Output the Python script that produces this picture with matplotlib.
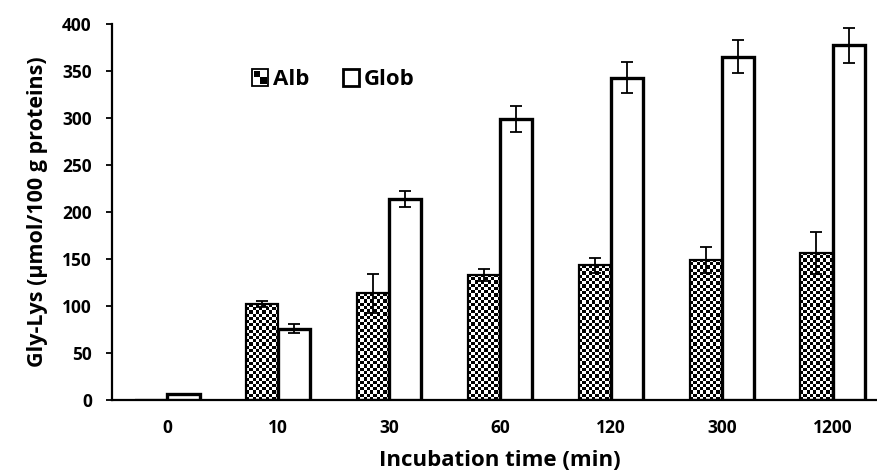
import numpy as np
import matplotlib
matplotlib.use('Agg')
import matplotlib.pyplot as plt
from matplotlib.patches import Rectangle
from matplotlib.legend_handler import HandlerBase

# значения
times = ['0', '10', '30', '60', '120', '300', '1200']
alb = [0, 102, 113.5, 133, 143.5, 149, 156.5]
alb_err = [0, 3.5, 20.5, 6.5, 8, 14, 22.5]
glob = [6, 76, 214, 299, 343, 365, 377.5]
glob_err = [0, 4.5, 8.5, 14, 16.5, 17.5, 18.5]

plt.rcParams['font.family'] = ['Open Sans', 'DejaVu Sans']
plt.rcParams['font.weight'] = 'bold'

W, H = 877, 470
fig = plt.figure(figsize=(W / 100, H / 100), dpi=100)
# область графика (правый край уходит чуть за рисунок, как в исходнике)
ax = fig.add_axes([112 / W, (H - 400) / H, 776 / W, 376 / H])

x = np.arange(len(times))
bw = 0.29
ax.set_xlim(-0.5, len(times) - 0.5)
ax.set_ylim(0, 400)

alb_bars = ax.bar(x - bw / 2, alb, width=bw, facecolor='none', edgecolor='black',
                  linewidth=1.6, zorder=3)
glob_bars = ax.bar(x + bw / 2, glob, width=bw, facecolor='white', edgecolor='black',
                   linewidth=2.4, zorder=3)

# шахматная заливка для Alb: картинка, обрезанная по форме столбика
cell = 3.2  # размер клетки в пикселях
for bar in alb_bars:
    h = bar.get_height()
    if h <= 0:
        continue
    x0 = bar.get_x()
    x1 = x0 + bar.get_width()
    p0 = ax.transData.transform((x0, 0))
    p1 = ax.transData.transform((x1, h))
    nx = max(1, int(round((p1[0] - p0[0]) / cell)))
    ny = max(1, int(round((p1[1] - p0[1]) / cell)))
    yy, xx = np.indices((ny, nx))
    checker = ((xx + yy) % 2).astype(float)
    im = ax.imshow(checker, cmap='gray', vmin=0, vmax=1, extent=(x0, x1, 0, h),
                   aspect='auto', interpolation='antialiased', origin='lower', zorder=2)
    im.set_clip_path(bar)

ae = np.array(alb_err, dtype=float)
ge = np.array(glob_err, dtype=float)
ma = ae > 0
mg = ge > 0
ax.errorbar((x - bw / 2)[ma], np.array(alb)[ma], yerr=ae[ma], fmt='none', ecolor='black',
            elinewidth=1.3, capsize=4.5, capthick=1.3, zorder=4)
ax.errorbar((x + bw / 2)[mg], np.array(glob)[mg], yerr=ge[mg], fmt='none', ecolor='black',
            elinewidth=1.3, capsize=4.5, capthick=1.3, zorder=4)

ax.spines['top'].set_visible(False)
ax.spines['right'].set_visible(False)
ax.spines['left'].set_linewidth(1.6)
ax.spines['bottom'].set_linewidth(1.6)

ax.set_yticks(np.arange(0, 401, 50))
ax.set_xticks(x)
ax.set_xticklabels(times)
ax.tick_params(axis='y', direction='out', length=4.5, width=1.3, labelsize=12.5, pad=10)
ax.tick_params(axis='x', length=0, labelsize=12.5, pad=14)
for lab in ax.get_xticklabels() + ax.get_yticklabels():
    lab.set_fontweight('bold')

ax.set_xlabel('Incubation time (min)', fontsize=16, fontweight='bold', labelpad=9)
ax.set_ylabel('Gly-Lys (µmol/100 g proteins)', fontsize=15.5, fontweight='bold', labelpad=10)


class CheckerHandler(HandlerBase):
    def create_artists(self, legend, orig_handle, xdescent, ydescent, width, height,
                       fontsize, trans):
        s = min(width, height)
        ox = -xdescent + (width - s) / 2
        oy = -ydescent + (height - s) / 2
        arts = [Rectangle((ox, oy), s, s, facecolor='white', edgecolor='black', lw=1.3,
                          transform=trans)]
        q = s / 2
        arts.append(Rectangle((ox + q * 0.2, oy + q), q * 0.8, q * 0.8,
                              facecolor='black', edgecolor='none', transform=trans))
        arts.append(Rectangle((ox + q, oy + q * 0.2), q * 0.8, q * 0.8,
                              facecolor='black', edgecolor='none', transform=trans))
        return arts


class BoxHandler(HandlerBase):
    def create_artists(self, legend, orig_handle, xdescent, ydescent, width, height,
                       fontsize, trans):
        s = min(width, height)
        ox = -xdescent + (width - s) / 2
        oy = -ydescent + (height - s) / 2
        return [Rectangle((ox, oy), s, s, facecolor='white', edgecolor='black', lw=2,
                          transform=trans)]


leg = ax.legend([alb_bars, glob_bars], ['Alb', 'Glob'], ncol=2, frameon=False,
                handler_map={alb_bars: CheckerHandler(), glob_bars: BoxHandler()},
                loc='center left', bbox_to_anchor=(0.166, 0.852),
                handlelength=0.75, handleheight=0.75, handletextpad=0.2, columnspacing=1.5,
                borderpad=0, prop={'weight': 'bold', 'size': 16})

fig.savefig('out.png', dpi=100)
